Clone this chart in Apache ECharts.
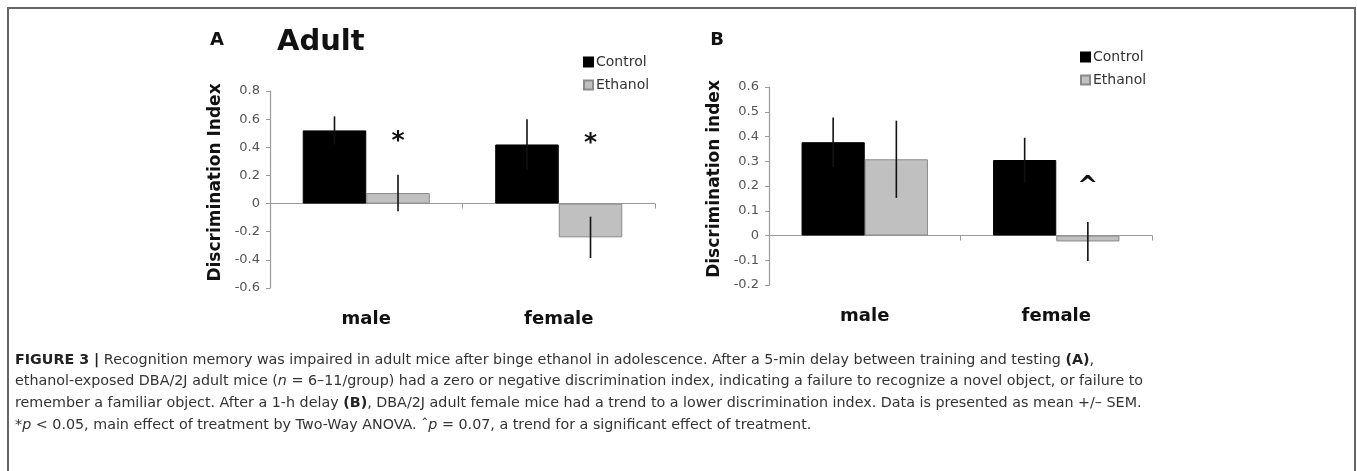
<!DOCTYPE html>
<html>
<head>
<meta charset="utf-8">
<script src="https://cdn.jsdelivr.net/npm/echarts@6/dist/echarts.min.js"></script>
<style>
  html, body { margin: 0; padding: 0; background: #fff; }
  #main { width: 1357px; height: 471px; }
</style>
</head>
<body>
<div id="main"></div>
<script>
// data
const categories = ['male', 'female'];

// panel A: 5-min delay (Adult)
const ctrlA = [0.52, 0.42];
const ctrlSemA = [0.10, 0.18];
const ethA = [0.075, -0.24];
const ethSemA = [0.13, 0.147];
const markA = ['*', '*'];
const markValA = [0.44, 0.43];

// panel B: 1-h delay
const ctrlB = [0.377, 0.305];
const ctrlSemB = [0.10, 0.09];
const ethB = [0.308, -0.024];
const ethSemB = [0.156, 0.079];
const markB = ['', '^'];
const markValB = [0, 0.20];

const ticksA = { min: -0.6, max: 0.8, interval: 0.2 };
const ticksB = { min: -0.2, max: 0.6, interval: 0.1 };

const captionLines = [
  '{b|FIGURE 3 |} Recognition memory was impaired in adult mice after binge ethanol in adolescence. After a 5-min delay between training and testing {b|(A)},',
  'ethanol-exposed DBA/2J adult mice ({i|n} = 6\u201311/group) had a zero or negative discrimination index, indicating a failure to recognize a novel object, or failure to',
  'remember a familiar object. After a 1-h delay {b|(B)}, DBA/2J adult female mice had a trend to a lower discrimination index. Data is presented as mean +/\u2013 SEM.',
  '*{i|p} < 0.05, main effect of treatment by Two-Way ANOVA. \u02c6{i|p} = 0.07, a trend for a significant effect of treatment.'
];

const GAP = 0.34;
const chartFont = 'DejaVu Sans';
const capFont = 'DejaVu Sans';
const capSize = 14.3;
const axisGray = '#9a9a9a';

function errSeries(gi, vals, sems, slot) {
  return {
    type: 'custom',
    xAxisIndex: gi * 2,
    yAxisIndex: gi,
    z: 5,
    silent: true,
    data: vals.map((v, i) => [i, v, sems[i]]),
    renderItem(params, api) {
      const i = api.value(0), v = api.value(1), e = api.value(2);
      const band = api.size([1, 0])[0];
      const bw = band * (1 - GAP) / 2;
      const x = api.coord([i, 0])[0] + (slot === 0 ? -bw / 2 : bw / 2);
      const y1 = api.coord([i, v + e])[1];
      const y2 = api.coord([i, v - e])[1];
      return { type: 'line', shape: { x1: x, y1: y1, x2: x, y2: y2 }, style: { stroke: '#111', lineWidth: 1.6 } };
    }
  };
}

function markSeries(gi, marks, vals) {
  return {
    type: 'custom',
    xAxisIndex: gi * 2,
    yAxisIndex: gi,
    z: 6,
    silent: true,
    data: marks.map((m, i) => [i, vals[i]]),
    renderItem(params, api) {
      const i = api.value(0);
      const band = api.size([1, 0])[0];
      const bw = band * (1 - GAP) / 2;
      const p = api.coord([i, api.value(1)]);
      return {
        type: 'text',
        x: p[0] + bw / 2, y: p[1],
        style: { text: marks[i], fill: '#111', font: 'bold 25px ' + chartFont, align: 'center', verticalAlign: 'middle' }
      };
    }
  };
}

function barSeries(gi, name, vals, color, border) {
  return {
    name: name,
    type: 'bar',
    xAxisIndex: gi * 2,
    yAxisIndex: gi,
    data: vals,
    barGap: '0%',
    barCategoryGap: (GAP * 100) + '%',
    itemStyle: { color: color, borderColor: border, borderWidth: 1 },
    silent: true
  };
}

function xAxes(gi) {
  return [
    {
      type: 'category', gridIndex: gi, data: categories,
      axisLine: { onZero: true, lineStyle: { color: axisGray, width: 1.2 } },
      axisTick: { show: true, length: 5, lineStyle: { color: axisGray } },
      axisLabel: { show: false }
    },
    {
      type: 'category', gridIndex: gi, data: categories, position: 'bottom',
      axisLine: { show: false, onZero: false },
      axisTick: { show: false },
      axisLabel: { margin: 22, color: '#111', fontFamily: chartFont, fontWeight: 'bold', fontSize: 18 }
    }
  ];
}

function yAxis(gi, t, name) {
  return {
    type: 'value', gridIndex: gi, min: t.min, max: t.max, interval: t.interval,
    name: name, nameLocation: 'middle', nameGap: 46, nameRotate: 90,
    nameTextStyle: { color: '#111', fontFamily: chartFont, fontWeight: 'bold', fontSize: 17, padding: [0, 0, 0, 14] },
    axisLine: { show: true, lineStyle: { color: axisGray, width: 1.2 } },
    axisTick: { show: true, length: 4, lineStyle: { color: axisGray } },
    splitLine: { show: false },
    axisLabel: { color: '#555', fontFamily: chartFont, fontSize: 13, margin: 10,
      formatter: v => String(Math.round(v * 10) / 10) }
  };
}

function legend(left, top) {
  return {
    left: left, top: top, orient: 'vertical', itemWidth: 9, itemHeight: 9, itemGap: 9,
    icon: 'rect', selectedMode: false,
    data: ['Control', 'Ethanol'],
    textStyle: { color: '#333', fontFamily: chartFont, fontSize: 14, padding: [0, 0, 0, -2] }
  };
}

const chart = echarts.init(document.getElementById('main'));
chart.setOption({
  animation: false,
  backgroundColor: '#fff',
  grid: [
    { left: 270, top: 91, width: 385, height: 197, outerBoundsMode: 'none' },
    { left: 769, top: 87, width: 383, height: 198, outerBoundsMode: 'none' }
  ],
  xAxis: [...xAxes(0), ...xAxes(1)],
  yAxis: [yAxis(0, ticksA, 'Discrimination Index'), yAxis(1, ticksB, 'Discrimination index')],
  legend: [legend(578, 50), legend(1075, 45)],
  series: [
    barSeries(0, 'Control', ctrlA, '#000', '#000'),
    barSeries(0, 'Ethanol', ethA, '#c0c0c0', '#8a8a8a'),
    errSeries(0, ctrlA, ctrlSemA, 0),
    errSeries(0, ethA, ethSemA, 1),
    markSeries(0, markA, markValA),
    barSeries(1, 'Control', ctrlB, '#000', '#000'),
    barSeries(1, 'Ethanol', ethB, '#c0c0c0', '#8a8a8a'),
    errSeries(1, ctrlB, ctrlSemB, 0),
    errSeries(1, ethB, ethSemB, 1),
    markSeries(1, markB, markValB)
  ],
  graphic: [
    { type: 'rect', shape: { x: 8, y: 8, width: 1347, height: 470 }, style: { fill: 'none', stroke: '#666', lineWidth: 2 }, silent: true },
    { type: 'text', x: 217, y: 40, style: { text: 'A', font: 'bold 18px ' + chartFont, fill: '#111', align: 'center', verticalAlign: 'middle' } },
    { type: 'text', x: 717, y: 40, style: { text: 'B', font: 'bold 18px ' + chartFont, fill: '#111', align: 'center', verticalAlign: 'middle' } },
    { type: 'text', x: 277, y: 42, style: { text: 'Adult', font: 'bold 29px ' + chartFont, fill: '#111', align: 'left', verticalAlign: 'middle' } },
    ...captionLines.map((line, k) => ({
      type: 'text', x: 15, y: 360 + k * 21.6,
      style: {
        text: line, font: capSize + 'px "' + capFont + '"', fill: '#333', verticalAlign: 'middle',
        rich: {
          b: { fontWeight: 'bold', fontFamily: capFont, fontSize: capSize, fill: '#222' },
          i: { fontStyle: 'italic', fontFamily: capFont, fontSize: capSize, fill: '#333' }
        }
      }
    }))
  ]
});
</script>
</body>
</html>
